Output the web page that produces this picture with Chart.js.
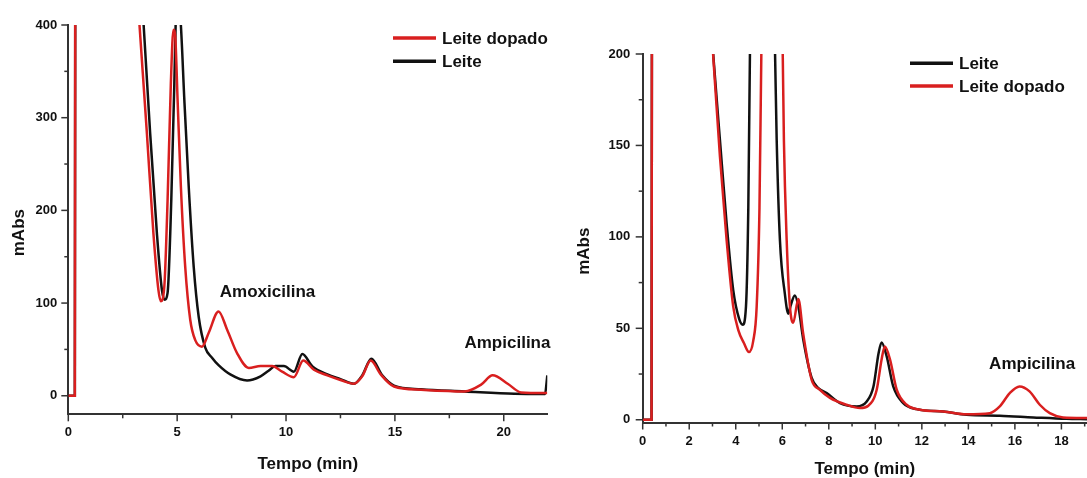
<!DOCTYPE html>
<html>
<head>
<meta charset="utf-8">
<script src="https://cdn.jsdelivr.net/npm/chart.js@4.4.1/dist/chart.umd.min.js"></script>
<style>
  html, body { margin: 0; padding: 0; background: #fff; overflow: hidden; }
  #wrapLeft { position: absolute; left: 0; top: 0; width: 560px; height: 478px; }
  #wrapRight { position: absolute; left: 560px; top: 0; width: 527px; height: 478px; }
</style>
</head>
<body>
<div id="wrapLeft"><canvas id="chartLeft" width="560" height="478"></canvas></div>
<div id="wrapRight"><canvas id="chartRight" width="527" height="478"></canvas></div>
<script>
// ── DATA ──────────────────────────────────────────────────────

// left panel: Amoxicilina + Ampicilina
const leftDopadoTime = [0, 0.3, 0.33, 1.5, 3.0, 3.27, 3.61, 3.91, 4.14, 4.25, 4.41, 4.56, 4.71, 4.83, 4.91, 5.02, 5.17, 5.37, 5.6, 5.83, 6.14, 6.45, 6.9, 7.3, 7.75, 8.29, 8.83, 9.36, 9.82, 10.36, 10.79, 11.28, 11.9, 12.5, 13.12, 13.5, 13.89, 14.35, 14.96, 16.2, 18.2, 18.96, 19.49, 20.18, 20.8, 21.87, 22];
const leftDopado     = [0, 0, 700, 900, 495, 400, 283, 175, 114, 102, 118, 211, 337, 395, 388, 319, 226, 139, 82, 60, 53, 68, 91, 71, 46, 30, 32, 32, 26, 20, 38, 28, 22, 17, 13, 21, 38, 23, 10, 6.5, 4.7, 12, 22, 13, 3.6, 2.9, 2.9];

const leftLeiteTime = [0, 0.3, 0.33, 1.5, 3.2, 3.46, 3.76, 4.07, 4.3, 4.42, 4.56, 4.73, 4.87, 4.93, 5.02, 5.17, 5.33, 5.53, 5.76, 5.99, 6.29, 6.6, 6.9, 7.44, 8.21, 8.83, 9.2, 9.52, 9.9, 10.36, 10.75, 11.2, 11.9, 12.5, 13.12, 13.5, 13.92, 14.42, 14.96, 16.19, 18.19, 20.49, 21.9, 21.97, 22];
const leftLeite     = [0, 0, 700, 900, 510, 400, 283, 175, 114, 103.5, 111, 211, 337, 400, 440, 400, 319, 226, 139, 85, 52, 41, 33, 23, 16.5, 21, 27, 32, 32, 26, 45, 32, 23, 18, 13, 22, 40, 22, 11, 7, 4.7, 2.2, 2, 15, 22];

// right panel: Ampicilina
const rightDopadoTime = [0, 0.38, 0.41, 1.5, 2.8, 3.0, 3.32, 3.61, 3.89, 4.11, 4.35, 4.57, 4.75, 4.9, 5.02, 5.1, 5.5, 6.02, 6.07, 6.19, 6.33, 6.47, 6.69, 6.9, 7.26, 7.62, 8.05, 8.76, 9.34, 9.7, 10.06, 10.27, 10.41, 10.63, 10.92, 11.35, 11.92, 12.92, 13.92, 14.92, 15.35, 15.78, 16.2, 16.63, 17.07, 17.5, 18.07, 19.1];
const rightDopado     = [0, 0, 400, 600, 243, 205, 144, 98, 62, 49, 42, 37, 43, 62, 116, 200, 500, 200, 153, 98, 62, 53, 66, 47, 22, 16.4, 12, 8.2, 6.4, 7.7, 16.4, 33, 40, 33, 16.4, 8.2, 5.5, 4.5, 3, 3.6, 7.3, 14.6, 18.2, 15.5, 8.2, 3.6, 1.3, 1];

const rightLeiteTime = [0, 0.38, 0.41, 1.5, 2.8, 3.03, 3.32, 3.61, 3.89, 4.15, 4.3, 4.44, 4.54, 4.61, 5.1, 5.69, 5.76, 5.9, 6.11, 6.26, 6.35, 6.54, 6.69, 6.9, 7.26, 7.55, 7.91, 8.48, 9.2, 9.63, 9.92, 10.14, 10.27, 10.49, 10.77, 11.2, 11.77, 12.92, 13.92, 15.35, 16.79, 18.22, 19.1];
const rightLeite     = [0, 0, 400, 600, 240, 200, 153, 107, 71, 55, 52, 62, 116, 200, 500, 200, 153, 98, 69, 58, 62, 68, 62, 44, 23, 17.3, 14.6, 9.1, 7.3, 10, 18.2, 36.4, 42.3, 34.6, 18.2, 9.1, 5.8, 4.5, 2.7, 2.2, 1.3, 0.5, 0.3];

// peak labels, anchored in data units
const leftPeaks  = [{ text: 'Amoxicilina', t: 9.15, v: 112 }, { text: 'Ampicilina', t: 20.17, v: 57 }];
const rightPeaks = [{ text: 'Ampicilina', t: 16.74, v: 30.5 }];

// ── STYLE ─────────────────────────────────────────────────────
const RED = '#d91f1f';
const BLACK = '#111111';
const AXIS = '#333333';
const FONT = '"Liberation Sans", Arial, Helvetica, sans-serif';

Chart.defaults.font.family = FONT;
Chart.defaults.color = '#111';

const pts = (ts, vs) => ts.map((t, i) => ({ x: t, y: vs[i] }));
const isMult = (v, s) => Math.abs(v / s - Math.round(v / s)) < 1e-6;

function stepValues(min, max, step) {
  const out = [];
  for (let v = Math.ceil(min / step - 1e-9) * step; v <= max + 1e-9; v += step) {
    out.push(Math.round(v * 1000) / 1000);
  }
  return out;
}

// labelled ticks = major steps only (keeps Chart.js from padding the right edge)
function majorTicks(scale, step) {
  scale.ticks = stepValues(scale.min, scale.max, step).map(v => ({ value: v }));
}

// Origin-like tick marks: major long, minor short, outside the frame
const tickMarks = {
  id: 'tickMarks',
  afterDraw(chart, args, opts) {
    const ctx = chart.ctx;
    ctx.save();
    ctx.strokeStyle = AXIS;
    ctx.lineWidth = 1.5;
    ['x', 'y'].forEach(id => {
      const s = chart.scales[id];
      const o = opts[id];
      stepValues(s.min, s.max, o.minor).forEach(v => {
        const len = isMult(v, o.major) ? 7 : 4;
        const p = s.getPixelForValue(v);
        ctx.beginPath();
        if (id === 'x') { ctx.moveTo(p, s.top); ctx.lineTo(p, s.top + len); }
        else { ctx.moveTo(s.right, p); ctx.lineTo(s.right - len, p); }
        ctx.stroke();
      });
    });
    ctx.restore();
  }
};

// legend box, peak names and the rotated y title
const decorations = {
  id: 'decorations',
  afterDraw(chart, args, opts) {
    const ctx = chart.ctx;
    const area = chart.chartArea;
    ctx.save();
    ctx.font = 'bold 17px ' + FONT;
    ctx.fillStyle = '#111';
    ctx.textBaseline = 'middle';

    chart.data.datasets.forEach((ds, k) => {
      const y = opts.legend.y + k * opts.legend.gap;
      ctx.strokeStyle = ds.borderColor;
      ctx.lineWidth = 3.5;
      ctx.beginPath();
      ctx.moveTo(opts.legend.x, y);
      ctx.lineTo(opts.legend.x + 43, y);
      ctx.stroke();
      ctx.textAlign = 'left';
      ctx.fillText(ds.label, opts.legend.x + 49, y + 1);
    });

    ctx.textAlign = 'center';
    opts.peaks.forEach(p => {
      ctx.fillText(p.text, chart.scales.x.getPixelForValue(p.t), chart.scales.y.getPixelForValue(p.v));
    });

    ctx.translate(opts.yTitle.x, (area.top + area.bottom) / 2 + opts.yTitle.dy);
    ctx.rotate(-Math.PI / 2);
    ctx.fillText('mAbs', 0, 0);
    ctx.restore();
  }
};

function lineSet(label, data, color, order) {
  return {
    label: label, data: data, order: order,
    borderColor: color, borderWidth: 2.5, pointRadius: 0,
    fill: false, cubicInterpolationMode: 'monotone'
  };
}

function makeChart(canvasId, cfg) {
  return new Chart(document.getElementById(canvasId), {
    type: 'line',
    data: { datasets: cfg.datasets },
    options: {
      responsive: false, animation: false, devicePixelRatio: 1,
      layout: { padding: cfg.padding },
      plugins: {
        legend: { display: false }, tooltip: { enabled: false },
        tickMarks: cfg.ticks,
        decorations: cfg.deco
      },
      scales: {
        x: {
          type: 'linear', min: cfg.xMin, max: cfg.xMax,
          afterBuildTicks: (s) => majorTicks(s, cfg.ticks.x.major),
          afterFit: (s) => { s.height = cfg.xHeight; },
          border: { color: AXIS, width: 2 },
          grid: { drawOnChartArea: false, drawTicks: false },
          ticks: {
            autoSkip: false, maxRotation: 0,
            padding: cfg.xPad, font: { size: 13, weight: 'bold' }
          },
          title: {
            display: true, text: 'Tempo (min)',
            font: { size: 17, weight: 'bold', lineHeight: 1 },
            padding: { top: 0, bottom: cfg.xTitlePad }
          }
        },
        y: {
          min: cfg.yMin, max: cfg.yMax,
          afterBuildTicks: (s) => majorTicks(s, cfg.ticks.y.major),
          afterFit: (s) => { s.width = 60; },
          border: { color: AXIS, width: 2 },
          grid: { drawOnChartArea: false, drawTicks: false },
          ticks: {
            autoSkip: false,
            padding: cfg.yPad, font: { size: 13, weight: 'bold' }
          }
        }
      }
    },
    plugins: [tickMarks, decorations]
  });
}

makeChart('chartLeft', {
  datasets: [
    lineSet('Leite dopado', pts(leftDopadoTime, leftDopado), RED, 0),
    lineSet('Leite', pts(leftLeiteTime, leftLeite), BLACK, 1)
  ],
  padding: { left: 8.3, top: 25, right: 12.7, bottom: 0 },
  xMin: 0, xMax: 22, yMin: -20, yMax: 400,
  xHeight: 63.7, xPad: 10, yPad: 11, xTitlePad: 5.5,
  ticks: { x: { minor: 2.5, major: 5 }, y: { minor: 50, major: 100 } },
  deco: { legend: { x: 393, y: 38, gap: 23.3 }, peaks: leftPeaks, yTitle: { x: 19.5, dy: 13 } }
});

makeChart('chartRight', {
  datasets: [
    lineSet('Leite', pts(rightLeiteTime, rightLeite), BLACK, 1),
    lineSet('Leite dopado', pts(rightDopadoTime, rightDopado), RED, 0)
  ],
  padding: { left: 22.7, top: 54, right: 0, bottom: 0 },
  xMin: 0, xMax: 19.1, yMin: -1.5, yMax: 200,
  xHeight: 55.5, xPad: 11, yPad: 12.5, xTitlePad: 0,
  ticks: { x: { minor: 1, major: 2 }, y: { minor: 25, major: 50 } },
  deco: { legend: { x: 350, y: 63.3, gap: 22.7 }, peaks: rightPeaks, yTitle: { x: 24.5, dy: 13 } }
});
</script>
</body>
</html>
